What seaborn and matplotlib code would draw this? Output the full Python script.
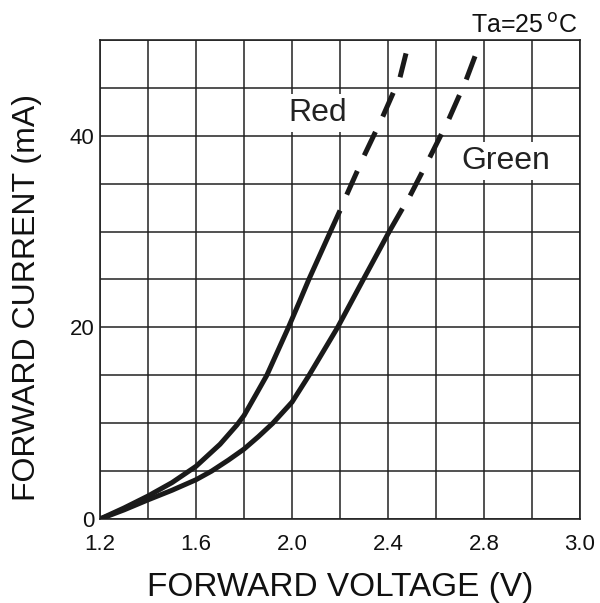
import matplotlib
matplotlib.use("Agg")
import matplotlib.pyplot as plt
import seaborn as sns
import pandas as pd

# forward voltage (V) vs forward current (mA)
red_v = [1.2, 1.3, 1.4, 1.5, 1.6, 1.7, 1.77, 1.8, 1.85, 1.895, 1.985, 2.033, 2.07, 2.16, 2.2]
red_i = [0, 1.15, 2.4, 3.8, 5.5, 7.8, 9.8, 10.8, 13.0, 15.0, 20.0, 22.8, 25.0, 30.0, 32.2]
red_v_ext = [2.228, 2.3, 2.378, 2.45, 2.475]
red_i_ext = [33.85, 37.9, 42.0, 46.1, 48.6]

green_v = [1.2, 1.3, 1.4, 1.5, 1.6, 1.665, 1.735, 1.8, 1.86, 1.92, 2.0, 2.071, 2.19, 2.297, 2.405, 2.46]
green_i = [0, 0.95, 2.0, 3.0, 4.1, 5.0, 6.15, 7.3, 8.6, 10.0, 12.2, 15.0, 20.0, 25.0, 30.0, 32.4]
green_v_ext = [2.492, 2.575, 2.651, 2.725, 2.7625]
green_i_ext = [33.75, 37.8, 41.6, 45.8, 48.3]

# the sheet labels its last grid line "3.0" although the grid keeps 0.2 V steps
x_ticks = [1.2, 1.6, 2.0, 2.4, 2.8, 3.2]
x_tick_labels = ["1.2", "1.6", "2.0", "2.4", "2.8", "3.0"]
y_ticks = [0, 20, 40]

sns.set_style("white")
plt.rcParams['font.family'] = ['Liberation Sans', 'DejaVu Sans']

fig = plt.figure(figsize=(6.0, 6.03), dpi=100)
ax = fig.add_axes([0.1667, 0.1393, 0.8, 0.7944])

ink = "#1a1a1a"
solid = pd.concat([
    pd.DataFrame({"v": red_v, "i": red_i, "led": "Red"}),
    pd.DataFrame({"v": green_v, "i": green_i, "led": "Green"}),
])
for led, d in solid.groupby("led"):
    sns.lineplot(data=d, x="v", y="i", color=ink, lw=3.6, ax=ax,
                 solid_capstyle="butt", solid_joinstyle="round", zorder=3)

for v, i in [(red_v_ext, red_i_ext), (green_v_ext, green_i_ext)]:
    sns.lineplot(x=v, y=i, color=ink, lw=3.6, ax=ax,
                 linestyle=(0, (5.2, 3.4)), dash_capstyle="butt", zorder=3)

ax.set_xlim(1.2, 3.2)
ax.set_ylim(0, 50)
ax.set_xticks([1.2 + 0.2 * k for k in range(11)], minor=True)
ax.set_yticks([5 * k for k in range(11)], minor=True)
ax.grid(True, which="both", color="#222222", lw=1.1, zorder=1)
ax.set_axisbelow(True)
for s in ax.spines.values():
    s.set_color("#222222")
    s.set_linewidth(1.2)

ax.set_xticks(x_ticks)
ax.set_xticklabels(x_tick_labels)
ax.set_yticks(y_ticks)
ax.set_yticklabels([str(t) for t in y_ticks])
ax.tick_params(which="both", length=0, labelsize=16, colors="#111111")
ax.tick_params(axis="x", pad=11)
ax.tick_params(axis="y", pad=4)

ax.set_xlabel("FORWARD VOLTAGE (V)", fontsize=24, color="#111111", labelpad=12)
ax.set_ylabel("FORWARD CURRENT (mA)", fontsize=23, color="#111111")
ax.yaxis.set_label_coords(-0.121, 0.463)

box = dict(facecolor="white", edgecolor="none", pad=3)
ax.text(2.108, 42.4, "Red", fontsize=23, ha="center", va="center", color="#222222",
        bbox=box, zorder=4)
ax.text(2.89, 37.4, "Green", fontsize=23, ha="center", va="center", color="#222222",
        bbox=box, zorder=4)
fig.text(0.963, 0.958, "Ta=25$\\,^{\\mathrm{o}}$C", fontsize=18, ha="right", va="center",
         color="#111111")

fig.savefig("out.png", dpi=100)
